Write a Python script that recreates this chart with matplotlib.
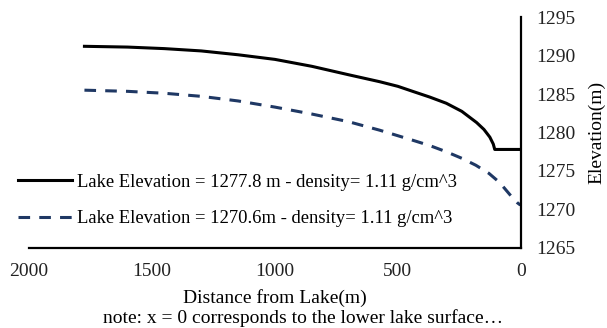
import matplotlib
matplotlib.use("Agg")
import matplotlib.pyplot as plt

# ---------- Dane ----------
dist_high = [1775, 1600, 1450, 1300, 1150, 1000, 850, 700, 574, 500, 440, 370, 303, 240, 180, 150, 126, 112, 106, 60, 0]
elev_high = [1291.2, 1291.1, 1290.9, 1290.6, 1290.1, 1289.5, 1288.6, 1287.5, 1286.6, 1286.0, 1285.35, 1284.6,
             1283.8, 1282.75, 1281.3, 1280.4, 1279.4, 1278.5, 1277.8, 1277.8, 1277.8]

dist_low = [1775, 1600, 1450, 1300, 1150, 1000, 850, 700, 574, 440, 370, 303, 240, 183, 130, 86, 45, 15, 5, 0]
elev_low = [1285.5, 1285.35, 1285.1, 1284.7, 1284.1, 1283.3, 1282.4, 1281.4, 1280.3, 1279.0, 1278.3, 1277.5,
            1276.65, 1275.75, 1274.7, 1273.5, 1271.95, 1270.9, 1270.65, 1270.6]

labels = ["Lake Elevation = 1277.8 m - density= 1.11 g/cm^3",
          "Lake Elevation = 1270.6m - density= 1.11 g/cm^3"]
x_ticks = [2000, 1500, 1000, 500, 0]
y_ticks = [1265, 1270, 1275, 1280, 1285, 1290, 1295]

plt.rcParams["font.family"] = ["Liberation Serif", "DejaVu Serif"]
plt.rcParams["font.size"] = 14

fig = plt.figure(figsize=(6.07, 3.28), dpi=100)
ax = fig.add_axes([0.048, 0.244, 0.81, 0.704])

ax.plot(dist_high, elev_high, color="black", lw=2.2, label=labels[0])
ax.plot(dist_low, elev_low, color="#1f3864", lw=2.2, dashes=(3.8, 3.0), label=labels[1])

ax.set_xlim(2000, 0)
ax.set_ylim(1265, 1295)
ax.set_xticks(x_ticks)
ax.set_yticks(y_ticks)

ax.spines["top"].set_visible(False)
ax.spines["left"].set_visible(False)
ax.spines["right"].set_linewidth(1.6)
ax.spines["bottom"].set_linewidth(1.6)
ax.yaxis.tick_right()
ax.yaxis.set_label_position("right")
ax.tick_params(length=0, labelcolor="#222222")
ax.tick_params(axis="y", pad=11)
ax.tick_params(axis="x", pad=11)

ax.set_ylabel("Elevation(m)", labelpad=9)
ax.set_xlabel("Distance from Lake(m)", labelpad=6)
fig.text(0.5, 0.03, "note: x = 0 corresponds to the lower lake surface\u2026", ha="center", va="center")

ax.legend(loc="upper left", bbox_to_anchor=(0.03, 0.470), bbox_transform=fig.transFigure,
          frameon=False, handlelength=2.9, handletextpad=0.25, labelspacing=1.05,
          borderpad=0, borderaxespad=0, fontsize=13.4)

fig.savefig("out.png", dpi=100)
